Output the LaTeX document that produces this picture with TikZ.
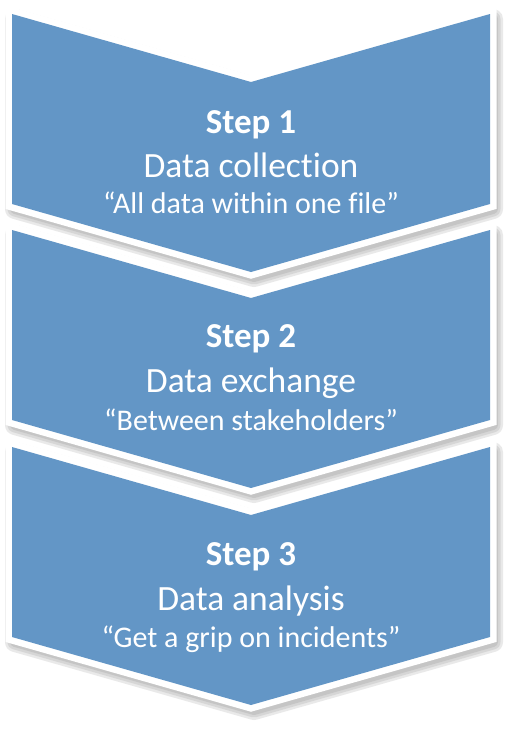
\documentclass[tikz,border=0pt]{standalone}
\usepackage{fontspec}
\setmainfont[Ligatures=NoCommon]{Carlito}
\definecolor{stepblue}{RGB}{99,150,198}
\definecolor{shadowgray}{RGB}{90,90,90}
\newcommand{\chevronpath}[1]{(12,#1) -- (251,#1+68) -- (490,#1) -- (490,#1+190) -- (251,#1+258) -- (12,#1+190) -- cycle}
\begin{document}
\begin{tikzpicture}[x=1pt,y=-1pt,
    rim/.style={draw=white,fill=white,line width=13pt,line join=miter},
    shade/.style={draw=shadowgray,fill=shadowgray,opacity=0.13,line join=round,shift={(3,5)}},
    body/.style={fill=stepblue},
    stepline/.style={anchor=base,text=white,font=\fontsize{35}{40}\selectfont\bfseries},
    titleline/.style={anchor=base,text=white,font=\fontsize{35.5}{40}\selectfont},
    quoteline/.style={anchor=base,text=white,font=\fontsize{30}{34}\selectfont}]
    \useasboundingbox[fill=white] (0,0) rectangle (514,734);

    % step 1
    \draw[shade,line width=20pt] \chevronpath{14};
    \draw[shade,line width=15pt] \chevronpath{14};
    \draw[shade,line width=10pt] \chevronpath{14};
    \draw[rim] \chevronpath{14};
    \fill[body] \chevronpath{14};
    \node[stepline]  (step1)  at (251,133) {Step 1};
    \node[titleline] (title1) at (251,177) {Data collection};
    \node[quoteline] (quote1) at (251,213) {“All data within one file”};

    % step 2
    \draw[shade,line width=20pt] \chevronpath{230};
    \draw[shade,line width=15pt] \chevronpath{230};
    \draw[shade,line width=10pt] \chevronpath{230};
    \draw[rim] \chevronpath{230};
    \fill[body] \chevronpath{230};
    \node[stepline]  (step2)  at (251,347) {Step 2};
    \node[titleline] (title2) at (251,392) {Data exchange};
    \node[quoteline] (quote2) at (251,430) {“Between stakeholders”};

    % step 3
    \draw[shade,line width=20pt] \chevronpath{447};
    \draw[shade,line width=15pt] \chevronpath{447};
    \draw[shade,line width=10pt] \chevronpath{447};
    \draw[rim] \chevronpath{447};
    \fill[body] \chevronpath{447};
    \node[stepline]  (step3)  at (251,565) {Step 3};
    \node[titleline] (title3) at (251,610) {Data analysis};
    \node[quoteline] (quote3) at (251,647) {“Get a grip on incidents”};

\end{tikzpicture}
\end{document}
